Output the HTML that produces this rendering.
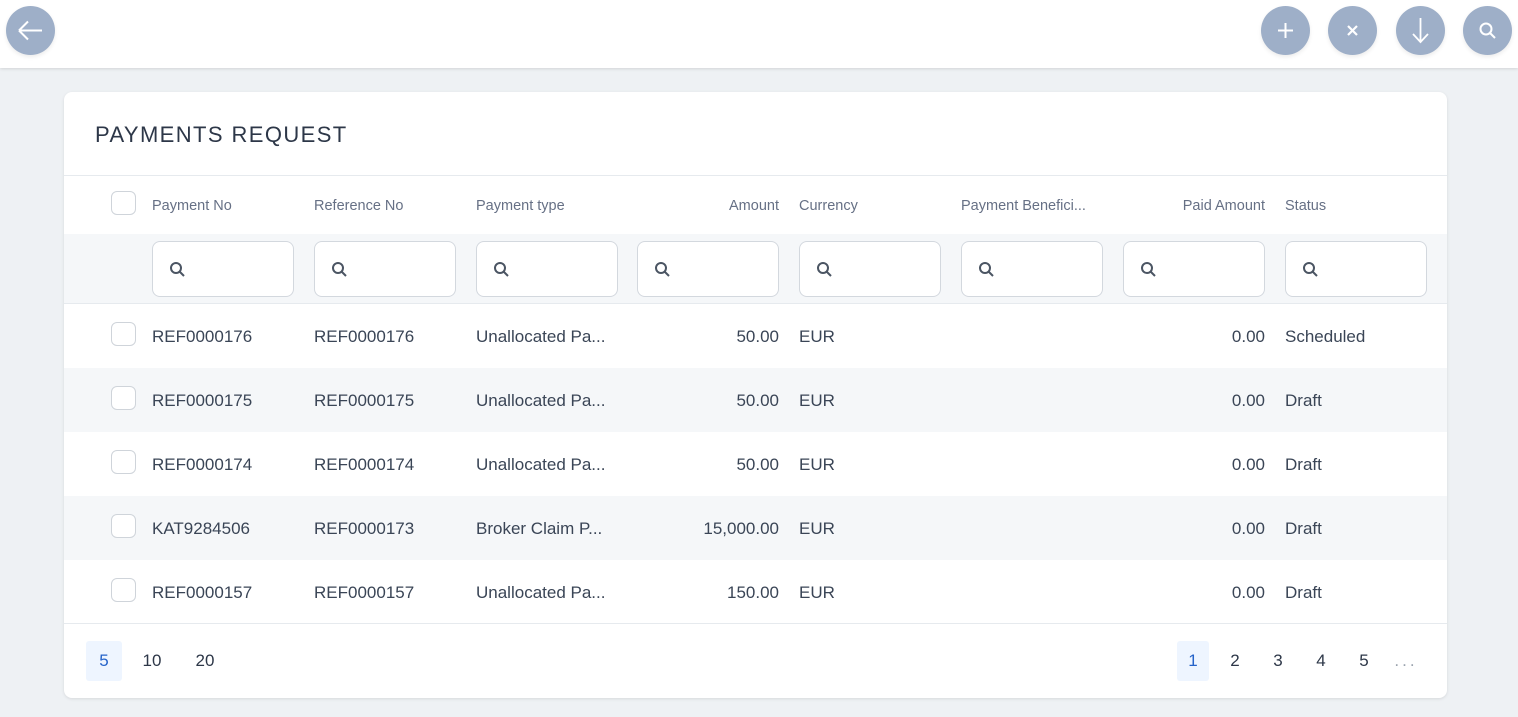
<!DOCTYPE html>
<html><head><style>
*{margin:0;padding:0;box-sizing:border-box}
body{width:1518px;height:717px;background:#eef1f4;font-family:"Liberation Sans",sans-serif;position:relative;overflow:hidden;color:#3a4556}
.top{position:absolute;left:0;top:0;width:1518px;height:68px;background:#fff;box-shadow:0 1px 3px rgba(0,0,0,.12)}
.c{position:absolute;top:6px;width:49px;height:49px;border-radius:50%;background:#9eafc8;box-shadow:0 2px 4px rgba(0,0,0,.08)}
.card{position:absolute;left:64px;top:92px;width:1383px;height:606px;background:#fff;border-radius:8px;box-shadow:0 1px 3px rgba(0,0,0,.1);overflow:hidden}
.t{position:absolute;white-space:nowrap}
.title{left:31px;top:30px;font-size:22px;letter-spacing:1.4px;color:#2d3748}
.hl{position:absolute;left:0;width:1383px;height:1px;background:#e6eaee}
.h{font-size:14.5px;color:#667085;top:106px}
.frow{position:absolute;left:0;top:142px;width:1383px;height:69px;background:#f5f7f9}
.inp{position:absolute;top:7px;width:142px;height:56px;background:#fff;border:1px solid #d3d8de;border-radius:8px}
.inp svg{position:absolute;left:15px;top:18px}
.row{position:absolute;left:0;width:1383px;height:64px}
.row.alt{background:#f5f7f9}
.row .t{top:23px;font-size:17px;color:#3a4556}
.cb{position:absolute;left:47px;width:25px;height:24px;border:1px solid #cfd4da;border-radius:6px;background:#fff}
.r{text-align:right}
.pg{position:absolute;top:549px;height:40px;font-size:17px;line-height:40px;text-align:center;color:#2d3748}
.sel{background:#eef5ff;color:#2563c9;border-radius:3px}
</style></head><body>
<div class="top">
<div class="c" style="left:6px"><svg width="49" height="49"><path d="M13 24.5h23M13 24.5l9-9M13 24.5l9 9" stroke="#fff" stroke-width="2" fill="none"/></svg></div>
<div class="c" style="left:1261px"><svg width="49" height="49"><path d="M24.5 17v15M17 24.5h15" stroke="#fff" stroke-width="2"/></svg></div>
<div class="c" style="left:1328px"><svg width="49" height="49"><path d="M20 20l9 9M29 20l-9 9" stroke="#fff" stroke-width="2.2"/></svg></div>
<div class="c" style="left:1396px"><svg width="49" height="49"><path d="M24.5 12v24M17 28l7.5 8 7.5-8" stroke="#fff" stroke-width="1.8" fill="none"/></svg></div>
<div class="c" style="left:1463px"><svg width="49" height="49"><circle cx="23" cy="23" r="5.5" stroke="#fff" stroke-width="2" fill="none"/><path d="M27 27l5 5" stroke="#fff" stroke-width="2"/></svg></div>
</div>
<div class="card">
<div class="t title">PAYMENTS REQUEST</div>
<div class="hl" style="top:83px"></div>
<div class="cb" style="top:99px"></div>
<div class="t h" style="left:88px">Payment No</div>
<div class="t h" style="left:250px">Reference No</div>
<div class="t h" style="left:412px">Payment type</div>
<div class="t h r" style="left:573px;width:142px">Amount</div>
<div class="t h" style="left:735px">Currency</div>
<div class="t h" style="left:897px">Payment Benefici...</div>
<div class="t h r" style="left:1059px;width:142px">Paid Amount</div>
<div class="t h" style="left:1221px">Status</div>
<div class="frow">
<div class="inp" style="left:88px"><svg width="20" height="20"><circle cx="8" cy="8" r="5" stroke="#4b5563" stroke-width="2" fill="none"/><path d="M11.5 11.5l4.5 4.5" stroke="#4b5563" stroke-width="2"/></svg></div>
<div class="inp" style="left:250px"><svg width="20" height="20"><circle cx="8" cy="8" r="5" stroke="#4b5563" stroke-width="2" fill="none"/><path d="M11.5 11.5l4.5 4.5" stroke="#4b5563" stroke-width="2"/></svg></div>
<div class="inp" style="left:412px"><svg width="20" height="20"><circle cx="8" cy="8" r="5" stroke="#4b5563" stroke-width="2" fill="none"/><path d="M11.5 11.5l4.5 4.5" stroke="#4b5563" stroke-width="2"/></svg></div>
<div class="inp" style="left:573px"><svg width="20" height="20"><circle cx="8" cy="8" r="5" stroke="#4b5563" stroke-width="2" fill="none"/><path d="M11.5 11.5l4.5 4.5" stroke="#4b5563" stroke-width="2"/></svg></div>
<div class="inp" style="left:735px"><svg width="20" height="20"><circle cx="8" cy="8" r="5" stroke="#4b5563" stroke-width="2" fill="none"/><path d="M11.5 11.5l4.5 4.5" stroke="#4b5563" stroke-width="2"/></svg></div>
<div class="inp" style="left:897px"><svg width="20" height="20"><circle cx="8" cy="8" r="5" stroke="#4b5563" stroke-width="2" fill="none"/><path d="M11.5 11.5l4.5 4.5" stroke="#4b5563" stroke-width="2"/></svg></div>
<div class="inp" style="left:1059px"><svg width="20" height="20"><circle cx="8" cy="8" r="5" stroke="#4b5563" stroke-width="2" fill="none"/><path d="M11.5 11.5l4.5 4.5" stroke="#4b5563" stroke-width="2"/></svg></div>
<div class="inp" style="left:1221px"><svg width="20" height="20"><circle cx="8" cy="8" r="5" stroke="#4b5563" stroke-width="2" fill="none"/><path d="M11.5 11.5l4.5 4.5" stroke="#4b5563" stroke-width="2"/></svg></div>
</div>
<div class="hl" style="top:211px"></div>

<div class="row" style="top:212px"><div class="cb" style="top:18px"></div><div class="t" style="left:88px">REF0000176</div><div class="t" style="left:250px">REF0000176</div><div class="t" style="left:412px">Unallocated Pa...</div><div class="t r" style="left:573px;width:142px">50.00</div><div class="t" style="left:735px">EUR</div><div class="t r" style="left:1059px;width:142px">0.00</div><div class="t" style="left:1221px">Scheduled</div></div>
<div class="row alt" style="top:276px"><div class="cb" style="top:18px"></div><div class="t" style="left:88px">REF0000175</div><div class="t" style="left:250px">REF0000175</div><div class="t" style="left:412px">Unallocated Pa...</div><div class="t r" style="left:573px;width:142px">50.00</div><div class="t" style="left:735px">EUR</div><div class="t r" style="left:1059px;width:142px">0.00</div><div class="t" style="left:1221px">Draft</div></div>
<div class="row" style="top:340px"><div class="cb" style="top:18px"></div><div class="t" style="left:88px">REF0000174</div><div class="t" style="left:250px">REF0000174</div><div class="t" style="left:412px">Unallocated Pa...</div><div class="t r" style="left:573px;width:142px">50.00</div><div class="t" style="left:735px">EUR</div><div class="t r" style="left:1059px;width:142px">0.00</div><div class="t" style="left:1221px">Draft</div></div>
<div class="row alt" style="top:404px"><div class="cb" style="top:18px"></div><div class="t" style="left:88px">KAT9284506</div><div class="t" style="left:250px">REF0000173</div><div class="t" style="left:412px">Broker Claim P...</div><div class="t r" style="left:573px;width:142px">15,000.00</div><div class="t" style="left:735px">EUR</div><div class="t r" style="left:1059px;width:142px">0.00</div><div class="t" style="left:1221px">Draft</div></div>
<div class="row" style="top:468px"><div class="cb" style="top:18px"></div><div class="t" style="left:88px">REF0000157</div><div class="t" style="left:250px">REF0000157</div><div class="t" style="left:412px">Unallocated Pa...</div><div class="t r" style="left:573px;width:142px">150.00</div><div class="t" style="left:735px">EUR</div><div class="t r" style="left:1059px;width:142px">0.00</div><div class="t" style="left:1221px">Draft</div></div>
<div class="hl" style="top:531px"></div>

<div class="pg sel" style="left:22px;width:36px">5</div>
<div class="pg" style="left:73px;width:30px">10</div>
<div class="pg" style="left:126px;width:30px">20</div>
<div class="pg sel" style="left:1113px;width:32px">1</div>
<div class="pg" style="left:1158px;width:26px">2</div>
<div class="pg" style="left:1201px;width:26px">3</div>
<div class="pg" style="left:1244px;width:26px">4</div>
<div class="pg" style="left:1287px;width:26px">5</div>
<div class="pg" style="left:1325px;width:34px;color:#9aa3ae;letter-spacing:3px">...</div>
</div>
</body></html>
